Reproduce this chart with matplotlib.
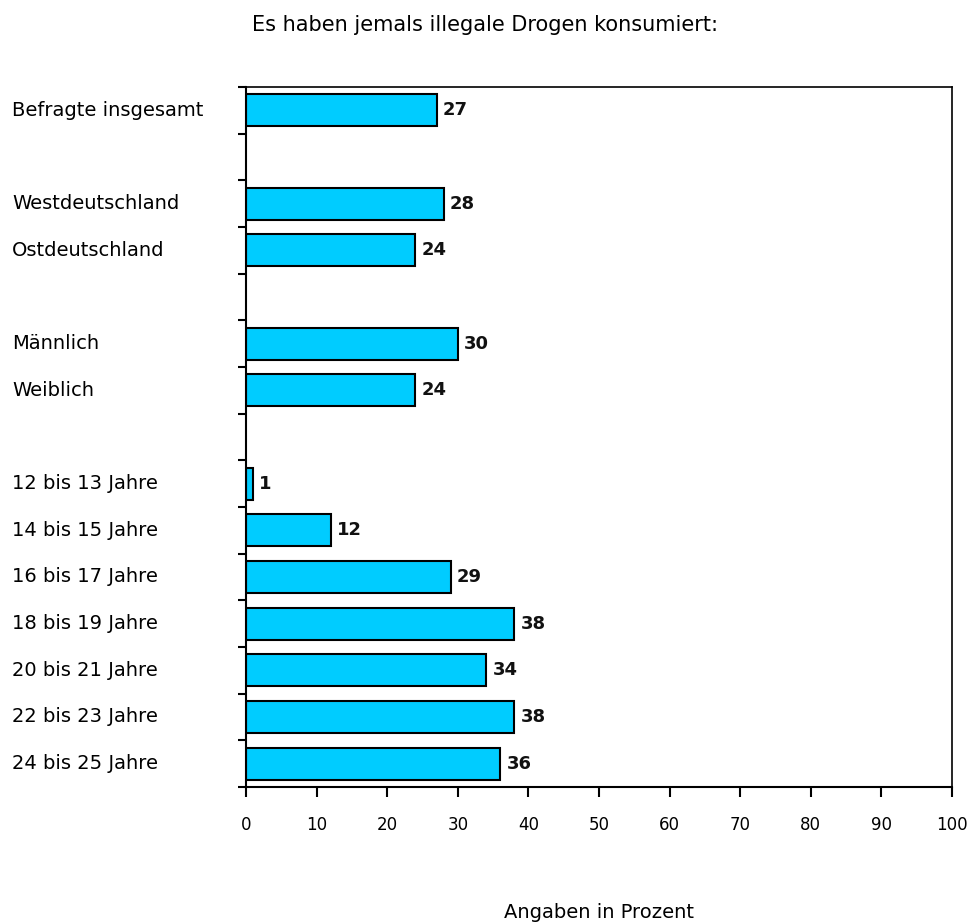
import matplotlib
matplotlib.use('Agg')
import matplotlib.pyplot as plt
from matplotlib import transforms

# groups of categories, separated by an empty row
groups = [
    ['Befragte insgesamt'],
    ['Westdeutschland', 'Ostdeutschland'],
    ['Männlich', 'Weiblich'],
    ['12 bis 13 Jahre', '14 bis 15 Jahre', '16 bis 17 Jahre', '18 bis 19 Jahre',
     '20 bis 21 Jahre', '22 bis 23 Jahre', '24 bis 25 Jahre'],
]
values = [
    [27],
    [28, 24],
    [30, 24],
    [1, 12, 29, 38, 34, 38, 36],
]
xticks = [0, 10, 20, 30, 40, 50, 60, 70, 80, 90, 100]

title = 'Es haben jemals illegale Drogen konsumiert:'
xlabel = 'Angaben in Prozent'

labels, vals, pos = [], [], []
row = 0
for g, v in zip(groups, values):
    for name, val in zip(g, v):
        labels.append(name)
        vals.append(val)
        pos.append(row)
        row += 1
    row += 1
nrows = row - 1

fig = plt.figure(figsize=(9.7, 9.24), dpi=100)
ax = fig.add_axes([0.2536, 0.1483, 0.7278, 0.7575])

ax.barh(pos, vals, height=0.69, color='#00CCFF', edgecolor='black', linewidth=1.5)
for p, v in zip(pos, vals):
    ax.text(v + 0.9, p, str(v), va='center', ha='left', fontsize=13,
            fontweight='bold', color='#111111')

ax.set_xlim(0, 100)
ax.set_ylim(nrows - 0.5, -0.5)
ax.set_xticks(xticks)
ax.set_xticklabels([str(t) for t in xticks], fontsize=12)
ax.tick_params(axis='x', direction='out', length=7, width=1.5, pad=14)

ax.set_yticks([i - 0.5 for i in range(nrows + 1)])
ax.set_yticklabels([])
ax.tick_params(axis='y', direction='out', length=6, width=1.5)

for s in ax.spines.values():
    s.set_linewidth(1.5)
ax.spines['top'].set_linewidth(1.2)
ax.spines['right'].set_linewidth(1.2)

trans = transforms.blended_transform_factory(fig.transFigure, ax.transData)
for p, name in zip(pos, labels):
    fig.text(12 / 970, p, name, fontsize=14, va='center', ha='left', transform=trans)

fig.text(0.5, 1 - 25 / 924, title, ha='center', va='center', fontsize=15)
fig.text(0.6175, 1 - 912 / 924, xlabel, ha='center', va='center', fontsize=14)

plt.savefig('out.png', dpi=100)
plt.close()
